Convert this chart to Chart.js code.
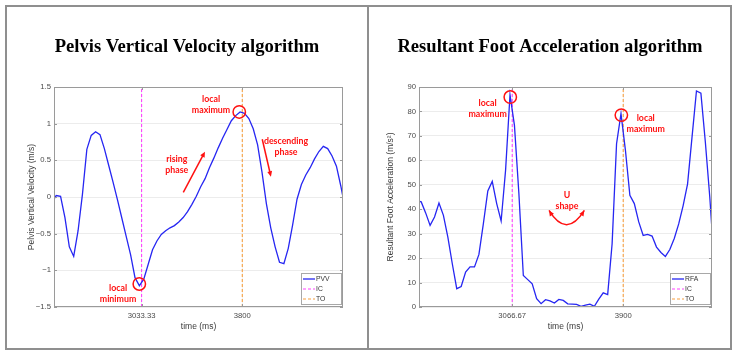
<!DOCTYPE html>
<html>
<head>
<meta charset="utf-8">
<script src="https://cdn.jsdelivr.net/npm/chart.js@4"></script>
<style>
html, body { margin: 0; padding: 0; background: #fff; }
#wrap { position: relative; width: 738px; height: 358px; overflow: hidden; }
canvas { position: absolute; top: 0; }
#c1 { left: 0; }
#c2 { left: 369px; }
.frame { position: absolute; top: 5px; height: 345px; border: 2px solid #8f8f8f; box-sizing: border-box; pointer-events: none; }
</style>
</head>
<body>
<div id="wrap">
  <canvas id="c1" width="369" height="358"></canvas>
  <canvas id="c2" width="369" height="358"></canvas>
  <div class="frame" style="left:5px;width:364px"></div>
  <div class="frame" style="left:367px;width:365px"></div>
</div>
<script>
// samples every 33.33 ms (30 Hz)
var T0 = 2350, DT = 100 / 3;
var X_MIN = 2366.67, X_MAX = 4566.67;

var pvv = [-0.08, 0.02, 0.01, -0.28, -0.68, -0.81, -0.46, 0.04, 0.65, 0.84, 0.89, 0.85, 0.66, 0.43, 0.20, -0.04,
  -0.29, -0.54, -0.79, -1.10, -1.21, -1.12, -0.92, -0.72, -0.60, -0.51, -0.46, -0.42, -0.39, -0.34, -0.28, -0.20,
  -0.10, 0.01, 0.14, 0.25, 0.40, 0.53, 0.67, 0.80, 0.92, 1.04, 1.11, 1.16, 1.14, 1.07, 0.93, 0.71, 0.34, -0.09,
  -0.42, -0.68, -0.89, -0.91, -0.70, -0.38, -0.03, 0.17, 0.30, 0.40, 0.52, 0.62, 0.69, 0.66, 0.56, 0.42, 0.15, -0.16];
var rfa = [43.5, 43.0, 38.5, 33.4, 36.8, 42.5, 37.5, 28.6, 17.7, 7.5, 8.4, 14.3, 16.4, 16.4, 21.5, 34.1, 47.5, 51.4,
  42.3, 35.2, 55.9, 86.8, 74.3, 46.4, 12.9, 11.2, 9.5, 3.4, 1.35, 3.0, 2.5, 1.6, 3.1, 2.7, 1.3, 1.2, 1.1, 0.3, 0.8,
  1.2, 0.3, 3.2, 5.8, 5.1, 25.9, 66.8, 79.1, 64.1, 45.7, 42.3, 34.8, 29.3, 29.7, 29.0, 24.5, 22.3, 20.7, 23.5, 28,
  34, 41.5, 50.4, 69.5, 88.4, 87.5, 67.5, 45, 18];

var pvvEvents = [3033.33, 3800];   // IC, TO
var rfaEvents = [3066.67, 3900];
var pvvTickLabels = ['3033.33', '3800'];
var rfaTickLabels = ['3066.67', '3900'];

// red annotations, in data units
var pvvCircles = [[3777, 1.16], [3016, -1.186]];
var pvvNotes = [
  {t: 3562, v: 1.26, text: ['local', 'maximum']},
  {t: 3301, v: 0.44, text: ['rising', 'phase']},
  {t: 4133, v: 0.69, text: ['descending', 'phase']},
  {t: 2854, v: -1.32, text: ['local', 'minimum']}
];
var pvvArrows = [[3351, 0.064, 3516, 0.618], [3952, 0.787, 4018, 0.277]];

var rfaCircles = [[3052, 85.9], [3886, 78.5]];
var rfaNotes = [
  {t: 2882, v: 81.2, text: ['local', 'maximum']},
  {t: 4069, v: 74.8, text: ['local', 'maximum']},
  {t: 3478, v: 43.7, text: ['U', 'shape']}
];
var rfaArc = [[3343, 39.5], [3474, 27.8], [3608, 39.5]];

Chart.defaults.font.family = '"Liberation Sans", Arial, sans-serif';

function series(values) {
  return values.map(function(v, i) { return {x: T0 + i * DT, y: v}; });
}

function arrowHead(ctx, x, y, ang) {
  ctx.beginPath();
  ctx.moveTo(x, y);
  ctx.lineTo(x - 6 * Math.cos(ang - 0.42), y - 6 * Math.sin(ang - 0.42));
  ctx.lineTo(x - 6 * Math.cos(ang + 0.42), y - 6 * Math.sin(ang + 0.42));
  ctx.closePath();
  ctx.fill();
}

var panelPlugin = {
  id: 'panel',
  afterDatasetsDraw: function(chart) {
    var o = chart.options.plugins.panel;
    var ctx = chart.ctx, a = chart.chartArea;
    var xs = chart.scales.x, ys = chart.scales.y;
    function px(t) { return xs.getPixelForValue(t); }
    function py(v) { return ys.getPixelForValue(v); }
    ctx.save();

    // axes box and inward ticks
    ctx.strokeStyle = '#9a9a9a';
    ctx.lineWidth = 1;
    ctx.strokeRect(a.left + 0.5, a.top + 0.5, a.right - a.left - 1, a.bottom - a.top - 1);
    ctx.beginPath();
    ys.ticks.forEach(function(t) {
      var y = Math.round(py(t.value)) + 0.5;
      ctx.moveTo(a.left, y); ctx.lineTo(a.left + 3, y);
      ctx.moveTo(a.right - 3, y); ctx.lineTo(a.right, y);
    });
    xs.ticks.forEach(function(t) {
      var x = Math.round(px(t.value)) + 0.5;
      ctx.moveTo(x, a.bottom); ctx.lineTo(x, a.bottom - 3);
      ctx.moveTo(x, a.top); ctx.lineTo(x, a.top + 3);
    });
    ctx.stroke();

    // legend box
    var bw = 40, bh = 31;
    var bx = a.right - 2 - bw, by = a.bottom - 3 - bh;
    ctx.fillStyle = '#fff';
    ctx.fillRect(bx, by, bw, bh);
    ctx.strokeStyle = '#a8a8a8';
    ctx.strokeRect(bx + 0.5, by + 0.5, bw, bh);
    ctx.font = '6.8px "Liberation Sans", Arial, sans-serif';
    ctx.textBaseline = 'middle';
    ctx.textAlign = 'left';
    chart.data.datasets.forEach(function(ds, i) {
      var y = by + 6 + i * 10;
      ctx.strokeStyle = ds.borderColor;
      ctx.lineWidth = ds.borderWidth;
      ctx.setLineDash(ds.borderDash || []);
      ctx.beginPath();
      ctx.moveTo(bx + 2, y); ctx.lineTo(bx + 14, y);
      ctx.stroke();
      ctx.setLineDash([]);
      ctx.fillStyle = '#333';
      ctx.fillText(ds.label, bx + 15, y);
    });

    // red marks
    ctx.strokeStyle = '#ff1010';
    ctx.fillStyle = '#ff1010';
    ctx.lineWidth = 1.5;
    o.circles.forEach(function(c) {
      ctx.beginPath();
      ctx.arc(px(c[0]), py(c[1]), 6.2, 0, Math.PI * 2);
      ctx.stroke();
    });
    (o.arrows || []).forEach(function(r) {
      var x1 = px(r[0]), y1 = py(r[1]), x2 = px(r[2]), y2 = py(r[3]);
      var ang = Math.atan2(y2 - y1, x2 - x1);
      ctx.beginPath();
      ctx.moveTo(x1, y1);
      ctx.lineTo(x2 - 4 * Math.cos(ang), y2 - 4 * Math.sin(ang));
      ctx.stroke();
      arrowHead(ctx, x2, y2, ang);
    });
    if (o.arc) {
      var p0 = [px(o.arc[0][0]), py(o.arc[0][1])];
      var c = [px(o.arc[1][0]), py(o.arc[1][1])];
      var p2 = [px(o.arc[2][0]), py(o.arc[2][1])];
      ctx.beginPath();
      ctx.moveTo(p0[0], p0[1]);
      ctx.quadraticCurveTo(c[0], c[1], p2[0], p2[1]);
      ctx.stroke();
      arrowHead(ctx, p0[0], p0[1], Math.atan2(p0[1] - c[1], p0[0] - c[0]));
      arrowHead(ctx, p2[0], p2[1], Math.atan2(p2[1] - c[1], p2[0] - c[0]));
    }
    ctx.font = 'bold 8.8px Lato, "Open Sans", sans-serif';
    ctx.textAlign = 'center';
    ctx.textBaseline = 'middle';
    o.notes.forEach(function(n) {
      var x = px(n.t), y = py(n.v);
      n.text.forEach(function(line, i) {
        ctx.fillText(line, x, y + (i - (n.text.length - 1) / 2) * 11);
      });
    });
    ctx.restore();
  },
  afterDraw: function(chart) {
    var o = chart.options.plugins.panel;
    var ctx = chart.ctx;
    ctx.save();
    ctx.font = 'bold 18.6px "Liberation Serif", "Times New Roman", serif';
    ctx.fillStyle = '#000';
    ctx.textAlign = 'center';
    ctx.textBaseline = 'alphabetic';
    ctx.fillText(o.title, o.titleX, 52);
    ctx.restore();
  }
};

function makePanel(id, p) {
  var datasets = [
    {label: p.label, data: series(p.values), borderColor: '#2626f2', borderWidth: 1.3, clip: 0},
    {label: 'IC', data: [{x: p.events[0], y: p.yMin}, {x: p.events[0], y: p.yMax}],
      borderColor: '#ff44ff', borderWidth: 1.1, borderDash: [3, 2]},
    {label: 'TO', data: [{x: p.events[1], y: p.yMin}, {x: p.events[1], y: p.yMax}],
      borderColor: '#f7a040', borderWidth: 1.1, borderDash: [3, 2]}
  ];
  return new Chart(document.getElementById(id), {
    type: 'line',
    data: {datasets: datasets},
    options: {
      responsive: false,
      animation: false,
      devicePixelRatio: 1,
      elements: {point: {radius: 0}, line: {tension: 0}},
      layout: {padding: {left: 0, right: 26, top: 87, bottom: 0}},
      plugins: {
        legend: {display: false},
        tooltip: {enabled: false},
        panel: {title: p.title, titleX: p.titleX, circles: p.circles, notes: p.notes, arrows: p.arrows, arc: p.arc}
      },
      scales: {
        x: {
          type: 'linear', min: X_MIN, max: X_MAX,
          afterBuildTicks: function(s) { s.ticks = p.events.map(function(v) { return {value: v}; }); },
          afterFit: function(s) { s.height = 51; },
          grid: {color: '#f2f2f2', drawTicks: false},
          border: {display: false},
          ticks: {
            padding: 4, color: '#4a4a4a', font: {size: 7.7}, maxRotation: 0, autoSkip: false,
            callback: function(v, i) { return p.tickLabels[i]; }
          },
          title: {display: true, text: 'time (ms)', color: '#3a3a3a', font: {size: 8.5}, padding: {top: 0, bottom: 26}}
        },
        y: {
          min: p.yMin, max: p.yMax,
          afterFit: function(s) { s.width = p.yWidth; },
          grid: {color: '#ececec', drawTicks: false},
          border: {display: false},
          ticks: {
            stepSize: p.yStep, padding: 3, color: '#4a4a4a', font: {size: 7.7},
            callback: function(v) { return String(v).replace('-', '\u2212'); }
          },
          title: {display: true, text: p.yTitle, color: '#3a3a3a', font: {size: 8.5}, padding: {top: p.yTitlePad, bottom: 0}}
        }
      }
    },
    plugins: [panelPlugin]
  });
}

makePanel('c1', {
  title: 'Pelvis Vertical Velocity algorithm', titleX: 187,
  label: 'PVV', values: pvv, events: pvvEvents, tickLabels: pvvTickLabels,
  yMin: -1.5, yMax: 1.5, yStep: 0.5, yWidth: 54, yTitlePad: 26.6,
  yTitle: 'Pelvis Vertical Velocity (m/s)',
  circles: pvvCircles, notes: pvvNotes, arrows: pvvArrows
});

makePanel('c2', {
  title: 'Resultant Foot Acceleration algorithm', titleX: 181,
  label: 'RFA', values: rfa, events: rfaEvents, tickLabels: rfaTickLabels,
  yMin: 0, yMax: 90, yStep: 10, yWidth: 50, yTitlePad: 16.6,
  yTitle: 'Resultant Foot Acceleration (m/s\u00b2)',
  circles: rfaCircles, notes: rfaNotes, arc: rfaArc
});
</script>
</body>
</html>
